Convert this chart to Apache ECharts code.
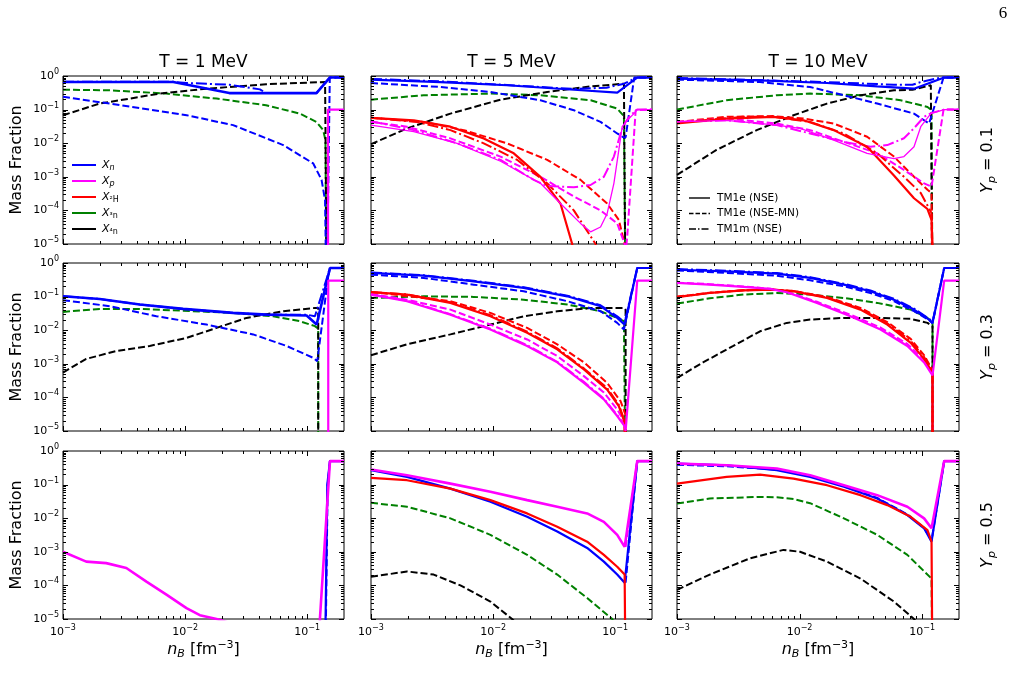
<!DOCTYPE html>
<html>
<head>
<meta charset="utf-8">
<script src="https://cdn.jsdelivr.net/npm/echarts@6/dist/echarts.min.js"></script>
<style>
  html, body { margin: 0; background: #fff; }
  #main { width: 1016px; height: 689px; }
</style>
</head>
<body>
<div id="main"></div>
<script>
// mass fractions, [n_B (fm^-3), X]; n = neutron, p = proton, d = 2H, t = 3H, a = 4He
// nse = TM1e (NSE) solid, mn = TM1e (NSE-MN) dashed, m = TM1m (NSE) dash-dot

// T = 1 MeV, Yp = 0.1
const t1y1_n_nse = [[0.001,0.66],[0.008,0.66],[0.023,0.31],[0.119,0.31],[0.153,0.9],[0.2,0.9]];
const t1y1_n_m = [[0.001,0.68],[0.008,0.67],[0.0103,0.62],[0.023,0.55],[0.041,0.40],[0.046,0.31],[0.119,0.31],[0.153,0.9],[0.2,0.9]];
const t1y1_n_mn = [[0.001,0.24],[0.0024,0.151],[0.0103,0.068],[0.0247,0.0345],[0.0636,0.0088],[0.112,0.0025],[0.131,8.1e-4],[0.140,2.0e-4],[0.144,1e-7],[0.146,1e-7],[0.153,0.9],[0.2,0.9]];
const t1y1_t_mn = [[0.001,0.39],[0.0024,0.376],[0.007,0.30],[0.0181,0.213],[0.046,0.135],[0.087,0.076],[0.119,0.043],[0.135,0.0245],[0.141,0.0124],[0.144,1e-7]];
const t1y1_a_mn = [[0.001,0.068],[0.002,0.151],[0.0062,0.30],[0.015,0.42],[0.046,0.57],[0.140,0.66],[0.145,0.66],[0.145,1e-7]];
const t1y1_p_nse = [[0.148,1e-7],[0.148,0.1],[0.2,0.1]];

// T = 5 MeV, Yp = 0.1
const t5y1_n_nse = [[0.001,0.78],[0.0037,0.66],[0.013,0.53],[0.046,0.39],[0.104,0.32],[0.151,0.9],[0.2,0.9]];
const t5y1_n_m = [[0.001,0.82],[0.0037,0.69],[0.013,0.54],[0.046,0.41],[0.085,0.45],[0.118,0.59],[0.151,0.9],[0.2,0.9]];
const t5y1_n_mn = [[0.001,0.62],[0.0037,0.47],[0.0095,0.335],[0.0244,0.19],[0.0458,0.096],[0.0758,0.043],[0.1038,0.0195],[0.117,0.0148],[0.1216,0.0148],[0.143,0.9],[0.2,0.9]];
const t5y1_t_mn = [[0.001,0.198],[0.0027,0.267],[0.0095,0.30],[0.0244,0.267],[0.063,0.19],[0.1038,0.107],[0.1178,0.064],[0.1216,0.06],[0.1216,1e-7]];
const t5y1_a_mn = [[0.001,0.0094],[0.00197,0.0275],[0.00447,0.076],[0.0115,0.198],[0.0277,0.335],[0.063,0.49],[0.1178,0.59],[0.1216,0.59],[0.1216,1e-7]];
const t5y1_d_nse = [[0.001,0.057],[0.00224,0.048],[0.00447,0.031],[0.00838,0.0139],[0.01476,0.005],[0.0244,0.001],[0.0356,1.6e-4],[0.0444,1e-5],[0.049,1e-6]];
const t5y1_d_mn = [[0.001,0.057],[0.0027,0.043],[0.00575,0.0245],[0.013,0.0099],[0.0277,0.0032],[0.052,8.1e-4],[0.0859,1.6e-4],[0.107,5.2e-5],[0.1194,1e-5],[0.1216,1e-7]];
const t5y1_d_m = [[0.001,0.057],[0.00238,0.043],[0.00447,0.0245],[0.00838,0.0099],[0.0157,0.0032],[0.0277,6.4e-4],[0.0458,1e-4],[0.069,1e-5],[0.075,3e-6]];
const t5y1_p_nse = [[0.001,0.0345],[0.00224,0.022],[0.00507,0.0099],[0.0115,0.0029],[0.0244,6.4e-4],[0.0356,1.6e-4],[0.052,4.1e-5],[0.0628,2.3e-5],[0.0758,3.2e-5],[0.0859,8.1e-5],[0.0975,6.4e-4],[0.107,0.0063],[0.114,0.031],[0.1254,0.048],[0.1423,0.076],[0.1514,0.1],[0.2,0.1]];
const t5y1_p_mn = [[0.001,0.043],[0.00197,0.031],[0.00447,0.0139],[0.0115,0.004],[0.0244,0.001],[0.0458,2.6e-4],[0.0758,1e-4],[0.1038,4.1e-5],[0.1194,1e-5],[0.1216,5e-6],[0.1254,1.7e-5],[0.147,0.096],[0.2,0.1]];
const t5y1_p_m = [[0.001,0.045],[0.00224,0.0245],[0.00507,0.0099],[0.0115,0.0032],[0.0215,8.1e-4],[0.0277,5.3e-4],[0.0458,4.9e-4],[0.0628,5.7e-4],[0.0807,0.001],[0.0975,0.004],[0.1106,0.0195],[0.1216,0.043],[0.1336,0.068],[0.1514,0.1],[0.2,0.1]];

// T = 10 MeV, Yp = 0.1
const t10y1_n_nse = [[0.001,0.83],[0.00476,0.745],[0.01675,0.62],[0.043,0.49],[0.0859,0.42],[0.1106,0.59],[0.1514,0.9],[0.2,0.9]];
const t10y1_n_m = [[0.001,0.87],[0.01675,0.66],[0.0589,0.55],[0.0834,0.55],[0.0975,0.66],[0.142,0.9],[0.2,0.9]];
const t10y1_n_mn = [[0.001,0.78],[0.00476,0.66],[0.0122,0.47],[0.023,0.267],[0.043,0.151],[0.0859,0.076],[0.114,0.0385],[0.1496,0.9],[0.2,0.9]];
const t10y1_t_mn = [[0.001,0.1],[0.00254,0.19],[0.00652,0.267],[0.0122,0.30],[0.0314,0.267],[0.0668,0.19],[0.1106,0.12],[0.1194,0.096],[0.1216,0.096],[0.1216,1e-7]];
const t10y1_a_mn = [[0.001,0.00114],[0.0021,0.0063],[0.00447,0.0245],[0.00893,0.068],[0.01675,0.151],[0.0314,0.267],[0.0589,0.376],[0.0834,0.39],[0.1178,0.53],[0.1216,0.53],[0.1216,1e-7]];
const t10y1_d_nse = [[0.001,0.0385],[0.00254,0.054],[0.00612,0.061],[0.0108,0.048],[0.019,0.0245],[0.0356,0.0078],[0.0589,0.0011],[0.0859,2.3e-4],[0.0975,1.6e-4],[0.1106,1.1e-4],[0.1194,5.2e-5],[0.1216,1e-5],[0.1216,1e-7]];
const t10y1_d_mn = [[0.001,0.043],[0.00254,0.061],[0.00612,0.064],[0.0108,0.054],[0.019,0.0385],[0.0356,0.0156],[0.0589,0.004],[0.0859,0.001],[0.1106,4.1e-4],[0.1194,3.3e-4],[0.1216,1e-7]];
const t10y1_d_m = [[0.001,0.041],[0.00348,0.061],[0.00612,0.061],[0.0122,0.043],[0.023,0.0195],[0.043,0.005],[0.0711,0.001],[0.0975,3.3e-4],[0.1194,8.3e-5],[0.1216,1e-7]];
const t10y1_p_nse = [[0.001,0.043],[0.00254,0.048],[0.00652,0.0345],[0.0101,0.0275],[0.019,0.0124],[0.0356,0.005],[0.0589,0.0035],[0.0711,0.004],[0.0859,0.0078],[0.0975,0.031],[0.1178,0.076],[0.1514,0.1],[0.2,0.1]];
const t10y1_p_mn = [[0.001,0.043],[0.00254,0.054],[0.00652,0.0385],[0.0122,0.0245],[0.023,0.011],[0.043,0.005],[0.0711,0.0016],[0.1038,6.4e-4],[0.1194,5.1e-4],[0.1496,0.1],[0.2,0.1]];
const t10y1_p_m = [[0.001,0.043],[0.00254,0.048],[0.00652,0.0345],[0.0122,0.0195],[0.023,0.011],[0.0379,0.0078],[0.052,0.0088],[0.0711,0.014],[0.0859,0.028],[0.1038,0.061],[0.1194,0.08],[0.1514,0.1],[0.2,0.1]];

// T = 1 MeV, Yp = 0.3
const t1y3_n_nse = [[0.001,0.102],[0.002,0.085],[0.00425,0.058],[0.00963,0.043],[0.0247,0.0327],[0.0464,0.029],[0.0988,0.0273],[0.1194,0.0147],[0.1535,0.71],[0.2,0.71]];
const t1y3_n_m = [[0.001,0.102],[0.002,0.085],[0.00425,0.058],[0.00963,0.043],[0.0247,0.0327],[0.0464,0.029],[0.0988,0.029],[0.1156,0.026],[0.1535,0.71],[0.2,0.71]];
const t1y3_n_mn = [[0.001,0.078],[0.00241,0.052],[0.00582,0.026],[0.01496,0.0147],[0.0361,0.0075],[0.0677,0.0034],[0.112,0.0015],[0.1208,0.0012],[0.1486,0.4],[0.1535,0.71],[0.2,0.71]];
const t1y3_t_mn = [[0.001,0.035],[0.002,0.043],[0.00425,0.043],[0.00963,0.038],[0.0247,0.0327],[0.0526,0.026],[0.0871,0.0185],[0.1156,0.0132],[0.123,0.011],[0.123,1e-7]];
const t1y3_a_mn = [[0.001,5.5e-4],[0.00155,0.0014],[0.00274,0.0024],[0.00513,0.0034],[0.01026,0.0059],[0.0181,0.0117],[0.0318,0.0232],[0.0636,0.0367],[0.1156,0.046],[0.123,0.046],[0.123,1e-7]];
const t1y3_p_nse = [[0.1486,1e-7],[0.1486,0.3],[0.2,0.3]];

// T = 5 MeV, Yp = 0.3
const t5y3_n_nse = [[0.001,0.505],[0.0027,0.42],[0.00695,0.285],[0.0178,0.181],[0.0405,0.102],[0.0758,0.052],[0.1038,0.0232],[0.1194,0.0147],[0.1514,0.71],[0.2,0.71]];
const t5y3_n_m = [[0.001,0.52],[0.0027,0.43],[0.00695,0.295],[0.0178,0.19],[0.0405,0.107],[0.0758,0.055],[0.1038,0.026],[0.1194,0.017],[0.1514,0.71],[0.2,0.71]];
const t5y3_n_mn = [[0.001,0.45],[0.0027,0.36],[0.00695,0.227],[0.0178,0.144],[0.0405,0.073],[0.0758,0.0367],[0.1038,0.0165],[0.1178,0.0105],[0.1216,0.0105],[0.1514,0.71],[0.2,0.71]];
const t5y3_t_mn = [[0.001,0.091],[0.0027,0.102],[0.00695,0.098],[0.0178,0.081],[0.0405,0.058],[0.0758,0.0367],[0.1038,0.0232],[0.1178,0.0185],[0.1216,0.0185],[0.1216,1e-7]];
const t5y3_a_mn = [[0.001,0.0018],[0.00197,0.0038],[0.00447,0.0075],[0.0095,0.0147],[0.0178,0.026],[0.0335,0.0367],[0.0628,0.046],[0.1178,0.046],[0.1216,0.04],[0.1216,1e-7]];
const t5y3_d_nse = [[0.001,0.135],[0.00197,0.115],[0.00447,0.065],[0.0095,0.026],[0.019,0.0084],[0.0335,0.0027],[0.0554,6.8e-4],[0.0859,1.7e-4],[0.107,5.5e-5],[0.1194,1.8e-5],[0.1216,1e-7]];
const t5y3_d_mn = [[0.001,0.138],[0.00447,0.073],[0.0095,0.0327],[0.019,0.0117],[0.0335,0.0038],[0.0554,0.0011],[0.0859,2.7e-4],[0.1106,7.7e-5],[0.1216,3e-5],[0.1216,1e-7]];
const t5y3_d_m = [[0.001,0.135],[0.00197,0.117],[0.00447,0.068],[0.0095,0.028],[0.019,0.009],[0.0335,0.0029],[0.0554,7.3e-4],[0.0859,1.9e-4],[0.107,6e-5],[0.1194,2e-5],[0.1216,1e-7]];
const t5y3_p_nse = [[0.001,0.115],[0.00197,0.073],[0.00447,0.029],[0.0095,0.0105],[0.019,0.0034],[0.0335,0.0011],[0.0554,2.7e-4],[0.0807,8.7e-5],[0.1038,2.8e-5],[0.1194,1.4e-5],[0.1216,1e-5],[0.1514,0.3],[0.2,0.3]];
const t5y3_p_mn = [[0.001,0.12],[0.00197,0.081],[0.00447,0.041],[0.0095,0.0147],[0.019,0.0053],[0.0335,0.0017],[0.0554,4.3e-4],[0.0807,1.4e-4],[0.1038,4.4e-5],[0.1194,1.8e-5],[0.1216,1e-7]];
const t5y3_p_m = [[0.001,0.118],[0.00197,0.076],[0.00447,0.03],[0.0095,0.011],[0.019,0.0036],[0.0335,0.00115],[0.0554,2.9e-4],[0.0807,9.2e-5],[0.1038,3e-5],[0.1194,1.5e-5],[0.1216,1e-7]];

// T = 10 MeV, Yp = 0.3
const t10y3_n_nse = [[0.001,0.63],[0.00254,0.565],[0.00652,0.48],[0.0122,0.36],[0.023,0.227],[0.0379,0.144],[0.0589,0.081],[0.0859,0.041],[0.114,0.0207],[0.1216,0.0165],[0.1514,0.71],[0.2,0.71]];
const t10y3_n_m = [[0.001,0.66],[0.00254,0.59],[0.00652,0.5],[0.0122,0.38],[0.023,0.24],[0.0379,0.152],[0.0589,0.086],[0.0859,0.044],[0.114,0.022],[0.1216,0.0175],[0.1514,0.71],[0.2,0.71]];
const t10y3_n_mn = [[0.001,0.6],[0.00254,0.505],[0.00652,0.42],[0.0122,0.305],[0.023,0.203],[0.0379,0.128],[0.0589,0.073],[0.0859,0.0367],[0.114,0.02],[0.1216,0.016],[0.1514,0.71],[0.2,0.71]];
const t10y3_t_mn = [[0.001,0.062],[0.00185,0.089],[0.00348,0.115],[0.00652,0.128],[0.0122,0.115],[0.023,0.091],[0.043,0.065],[0.0807,0.041],[0.1106,0.0232],[0.1216,0.0165],[0.1216,1e-7]];
const t10y3_a_mn = [[0.001,3.8e-4],[0.00163,0.0011],[0.00288,0.0034],[0.00476,0.0093],[0.00787,0.0165],[0.0122,0.0207],[0.023,0.0232],[0.043,0.0232],[0.0807,0.0218],[0.1106,0.0165],[0.1216,0.013],[0.1216,1e-7]];
const t10y3_d_nse = [[0.001,0.0955],[0.00185,0.128],[0.00348,0.154],[0.00612,0.161],[0.00893,0.144],[0.01675,0.091],[0.0314,0.041],[0.052,0.0147],[0.0807,0.0042],[0.1038,0.0014],[0.1216,5.4e-4],[0.1216,1e-7]];
const t10y3_d_mn = [[0.001,0.1],[0.00185,0.13],[0.00348,0.155],[0.00612,0.16],[0.00893,0.148],[0.01675,0.098],[0.0314,0.046],[0.052,0.0175],[0.0807,0.0055],[0.1038,0.0018],[0.1216,6.5e-4],[0.1216,1e-7]];
const t10y3_d_m = [[0.001,0.098],[0.00185,0.13],[0.00348,0.155],[0.00612,0.161],[0.00893,0.146],[0.01675,0.094],[0.0314,0.043],[0.052,0.016],[0.0807,0.0048],[0.1038,0.0016],[0.1216,6e-4],[0.1216,1e-7]];
const t10y3_p_nse = [[0.001,0.255],[0.00185,0.227],[0.00348,0.194],[0.00575,0.169],[0.00787,0.135],[0.01387,0.065],[0.026,0.026],[0.0458,0.0105],[0.0758,0.0034],[0.1038,0.0011],[0.1216,4.5e-4],[0.1514,0.3],[0.2,0.3]];
const t10y3_p_mn = [[0.001,0.26],[0.00185,0.235],[0.00348,0.2],[0.00575,0.172],[0.00787,0.14],[0.01387,0.07],[0.026,0.029],[0.0458,0.012],[0.0758,0.0039],[0.1038,0.0013],[0.1216,5e-4],[0.1216,1e-7]];

// T = 1 MeV, Yp = 0.5
const t1y5_p_nse = [[0.001,0.001],[0.00155,5.1e-4],[0.00226,4.6e-4],[0.0033,3.3e-4],[0.00482,1.3e-4],[0.00703,5.3e-5],[0.01026,2.1e-5],[0.0132,1.3e-5],[0.0181,1e-5],[0.025,7e-6],[0.125,1e-7],[0.127,1e-5],[0.1535,0.5],[0.2,0.5]];
const t1y5_n_nse = [[0.139,1e-7],[0.146,0.1],[0.1535,0.5],[0.2,0.5]];
const t1y5_n_mn = [[0.140,1e-7],[0.147,0.1],[0.1535,0.5],[0.2,0.5]];

// T = 5 MeV, Yp = 0.5
const t5y5_p_nse = [[0.001,0.28],[0.00197,0.19],[0.00447,0.107],[0.0095,0.061],[0.019,0.0345],[0.0335,0.022],[0.0589,0.0139],[0.0807,0.0078],[0.1038,0.0032],[0.1194,0.0014],[0.1514,0.5],[0.2,0.5]];
const t5y5_p_mn = [[0.1216,0.0014],[0.1514,0.5],[0.2,0.5]];
const t5y5_n_nse = [[0.001,0.267],[0.00197,0.17],[0.00447,0.076],[0.0095,0.031],[0.019,0.011],[0.0335,0.004],[0.0589,0.0013],[0.0807,5.1e-4],[0.1038,2.1e-4],[0.1194,1.2e-4],[0.1514,0.5],[0.2,0.5]];
const t5y5_n_mn = [[0.1216,1.2e-4],[0.1514,0.5],[0.2,0.5]];
const t5y5_d_nse = [[0.001,0.158],[0.00197,0.135],[0.00447,0.076],[0.0095,0.0345],[0.019,0.0139],[0.0335,0.0056],[0.0589,0.002],[0.0807,8.1e-4],[0.1038,3.6e-4],[0.1194,2.1e-4],[0.1216,1e-7]];
const t5y5_t_mn = [[0.001,0.0287],[0.00197,0.022],[0.00447,0.0099],[0.0095,0.0032],[0.019,8.1e-4],[0.0335,2.1e-4],[0.0589,4.2e-5],[0.0945,1e-5],[0.11,3e-6]];
const t5y5_a_mn = [[0.001,1.8e-4],[0.00197,2.6e-4],[0.00326,2.1e-4],[0.0054,1.0e-4],[0.0095,3.3e-5],[0.0143,1e-5],[0.02,3e-6]];

// T = 10 MeV, Yp = 0.5
const t10y5_p_nse = [[0.001,0.42],[0.00254,0.376],[0.00652,0.3],[0.0122,0.19],[0.023,0.096],[0.043,0.0485],[0.0758,0.022],[0.1038,0.0099],[0.1194,0.005],[0.1514,0.5],[0.2,0.5]];
const t10y5_n_nse = [[0.001,0.42],[0.00254,0.376],[0.00652,0.267],[0.0122,0.17],[0.023,0.086],[0.043,0.0386],[0.0758,0.0124],[0.1038,0.005],[0.1194,0.002],[0.1514,0.5],[0.2,0.5]];
const t10y5_n_mn = [[0.001,0.39],[0.00254,0.35],[0.00652,0.28],[0.0122,0.18],[0.023,0.09],[0.043,0.04],[0.0758,0.013],[0.1038,0.0052],[0.1194,0.0021],[0.1514,0.5],[0.2,0.5]];
const t10y5_d_nse = [[0.001,0.107],[0.00254,0.17],[0.00476,0.199],[0.00893,0.151],[0.01675,0.096],[0.0314,0.0485],[0.052,0.0245],[0.0807,0.011],[0.1106,0.0044],[0.1194,0.002],[0.1216,1e-7]];
const t10y5_t_mn = [[0.001,0.0275],[0.00185,0.0386],[0.00476,0.043],[0.00652,0.042],[0.00893,0.037],[0.0122,0.028],[0.023,0.0099],[0.043,0.0032],[0.0758,8.1e-4],[0.1194,1.6e-4],[0.1216,1e-7]];
const t10y5_a_mn = [[0.001,7.4e-5],[0.00185,2.1e-4],[0.00394,6.4e-4],[0.0074,0.00114],[0.0101,0.001],[0.01675,5.1e-4],[0.0314,1.6e-4],[0.0589,3.3e-5],[0.0859,1e-5],[0.1,5e-6]];

const titles = ["T = 1 MeV", "T = 5 MeV", "T = 10 MeV"];
const ypValues = ["0.1", "0.3", "0.5"];
const legendSpecies = [["n", "n"], ["p", "p"], ["d", "²H"], ["t", "³n"], ["a", "⁴n"]];
const legendModels = [["nse", "TM1e (NSE)"], ["mn", "TM1e (NSE-MN)"], ["m", "TM1m (NSE)"]];

// panel layout
const colLeft = [63, 371, 677];
const colWidth = [281, 281, 282];
const rowTop = [76, 263, 451];
const rowHeight = 168;

const colors = { n: "#0000ff", p: "#ff00ff", d: "#ff0000", t: "#008000", a: "#000000" };
const styles = {
  nse: { type: "solid", width: 2.2 },
  mn: { type: [7, 3], width: 2 },
  m: { type: [11, 3, 2, 3], width: 2 },
};

// curves of each panel, row by row
const panels = [
  [[t1y1_t_mn, "t", "mn"], [t1y1_a_mn, "a", "mn"], [t1y1_n_mn, "n", "mn"], [t1y1_n_m, "n", "m"], [t1y1_n_nse, "n", "nse", 2.6], [t1y1_p_nse, "p", "nse"]],
  [[t5y1_t_mn, "t", "mn"], [t5y1_a_mn, "a", "mn"], [t5y1_n_mn, "n", "mn"], [t5y1_d_mn, "d", "mn"], [t5y1_p_mn, "p", "mn"], [t5y1_n_m, "n", "m"], [t5y1_d_m, "d", "m"], [t5y1_p_m, "p", "m"], [t5y1_n_nse, "n", "nse"], [t5y1_d_nse, "d", "nse"], [t5y1_p_nse, "p", "nse", 1.3]],
  [[t10y1_t_mn, "t", "mn"], [t10y1_a_mn, "a", "mn"], [t10y1_n_mn, "n", "mn"], [t10y1_d_mn, "d", "mn"], [t10y1_p_mn, "p", "mn"], [t10y1_n_m, "n", "m"], [t10y1_d_m, "d", "m"], [t10y1_p_m, "p", "m"], [t10y1_n_nse, "n", "nse"], [t10y1_d_nse, "d", "nse"], [t10y1_p_nse, "p", "nse", 1.3]],
  [[t1y3_t_mn, "t", "mn"], [t1y3_a_mn, "a", "mn"], [t1y3_n_mn, "n", "mn"], [t1y3_n_m, "n", "m"], [t1y3_n_nse, "n", "nse", 2.6], [t1y3_p_nse, "p", "nse"]],
  [[t5y3_t_mn, "t", "mn"], [t5y3_a_mn, "a", "mn"], [t5y3_n_mn, "n", "mn"], [t5y3_d_mn, "d", "mn"], [t5y3_p_mn, "p", "mn"], [t5y3_n_m, "n", "m"], [t5y3_d_m, "d", "m"], [t5y3_p_m, "p", "m"], [t5y3_n_nse, "n", "nse"], [t5y3_d_nse, "d", "nse"], [t5y3_p_nse, "p", "nse"]],
  [[t10y3_t_mn, "t", "mn"], [t10y3_a_mn, "a", "mn"], [t10y3_n_mn, "n", "mn"], [t10y3_d_mn, "d", "mn"], [t10y3_p_mn, "p", "mn"], [t10y3_n_m, "n", "m"], [t10y3_d_m, "d", "m"], [t10y3_n_nse, "n", "nse"], [t10y3_d_nse, "d", "nse"], [t10y3_p_nse, "p", "nse"]],
  [[t1y5_n_mn, "n", "mn"], [t1y5_n_nse, "n", "nse"], [t1y5_p_nse, "p", "nse", 2.6]],
  [[t5y5_t_mn, "t", "mn"], [t5y5_a_mn, "a", "mn"], [t5y5_n_mn, "n", "mn"], [t5y5_p_mn, "p", "mn"], [t5y5_n_nse, "n", "nse"], [t5y5_d_nse, "d", "nse"], [t5y5_p_nse, "p", "nse", 2.6]],
  [[t10y5_t_mn, "t", "mn"], [t10y5_a_mn, "a", "mn"], [t10y5_n_mn, "n", "mn"], [t10y5_n_nse, "n", "nse"], [t10y5_d_nse, "d", "nse"], [t10y5_p_nse, "p", "nse", 2.6]],
];

const FONT = "DejaVu Sans";
const X_MIN = 0.001, X_MAX = 0.2, Y_MIN = 1e-5, Y_MAX = 1;

function powLabel(v) {
  const e = Math.round(Math.log10(v));
  return "10{s|" + (e < 0 ? "\u2212" + -e : e) + "}";
}

// tick values: [x, y, kind]; kind 0/1 = x major/minor, 2/3 = y major/minor
function tickData() {
  const d = [];
  for (let e = -3; e <= -1; e++) {
    for (let k = 1; k <= 9; k++) {
      const v = k * Math.pow(10, e);
      if (v >= X_MAX - 1e-9) break;
      d.push([v, Y_MIN, k === 1 ? 0 : 1]);
    }
  }
  for (let e = -5; e <= 0; e++) {
    for (let k = 1; k <= 9; k++) {
      const v = k * Math.pow(10, e);
      if (v > Y_MAX + 1e-9) break;
      d.push([X_MIN, v, k === 1 ? 2 : 3]);
    }
  }
  return d;
}

const grids = [], xAxes = [], yAxes = [], series = [];
panels.forEach((curves, gi) => {
  const r = Math.floor(gi / 3), c = gi % 3;
  grids.push({
    left: colLeft[c], top: rowTop[r], width: colWidth[c], height: rowHeight,
    show: true, borderColor: "#000", borderWidth: 1, backgroundColor: "transparent",
  });
  xAxes.push({
    type: "log", gridIndex: gi, min: X_MIN, max: X_MAX,
    axisLine: { show: false }, axisTick: { show: false }, splitLine: { show: false },
    axisLabel: {
      show: r === 2, formatter: powLabel, showMaxLabel: false, margin: 5,
      color: "#000", fontFamily: FONT, fontSize: 11, lineHeight: 16,
      rich: { s: { fontSize: 8, lineHeight: 9, verticalAlign: "top", fontFamily: FONT, color: "#000" } },
    },
  });
  yAxes.push({
    type: "log", gridIndex: gi, min: Y_MIN, max: Y_MAX,
    axisLine: { show: false }, axisTick: { show: false }, splitLine: { show: false },
    axisLabel: {
      show: c === 0, formatter: powLabel, showMinLabel: true, showMaxLabel: true, margin: 4,
      color: "#000", fontFamily: FONT, fontSize: 11, lineHeight: 16,
      rich: { s: { fontSize: 8, lineHeight: 9, verticalAlign: "top", fontFamily: FONT, color: "#000" } },
    },
  });
  curves.forEach(([data, sp, st, w]) => {
    series.push({
      type: "line", xAxisIndex: gi, yAxisIndex: gi, data: data,
      symbol: "none", showSymbol: false, silent: true, clip: true,
      lineStyle: { color: colors[sp], width: w || styles[st].width, type: styles[st].type },
    });
  });
});

const chart = echarts.init(document.getElementById("main"), null, { renderer: "canvas" });
chart.setOption({
  backgroundColor: "#fff",
  animation: false,
  grid: grids,
  xAxis: xAxes,
  yAxis: yAxes,
  series: series,
});

// texts, legends and in-pointing ticks
const graphic = [];
const baseText = { fill: "#000", fontFamily: FONT, align: "center", verticalAlign: "middle", textAlign: "center", textVerticalAlign: "middle" };
const mathRich = {
  i: { fontStyle: "italic", fontFamily: FONT, fontSize: 16, lineHeight: 20 },
  sub: { fontStyle: "italic", fontFamily: FONT, fontSize: 11, lineHeight: 9, verticalAlign: "bottom" },
  sup: { fontFamily: FONT, fontSize: 11, lineHeight: 9, verticalAlign: "top" },
};
titles.forEach((t, c) => {
  graphic.push({ type: "text", x: colLeft[c] + colWidth[c] / 2, y: 63, style: Object.assign({}, baseText, { text: t, fontSize: 17 }) });
  graphic.push({
    type: "text", x: colLeft[c] + colWidth[c] / 2, y: 650,
    style: Object.assign({}, baseText, { text: "{i|n}{sub|B} [fm{sup|\u22123}]", fontSize: 16, lineHeight: 20, rich: mathRich }),
  });
});
ypValues.forEach((v, r) => {
  const cy = rowTop[r] + rowHeight / 2;
  graphic.push({ type: "text", x: 17, y: cy, rotation: Math.PI / 2, style: Object.assign({}, baseText, { text: "Mass Fraction", fontSize: 16 }) });
  graphic.push({
    type: "text", x: 988, y: cy, rotation: Math.PI / 2,
    style: Object.assign({}, baseText, { text: "{i|Y}{sub|p} = " + v, fontSize: 16, lineHeight: 20, rich: mathRich }),
  });
});
graphic.push({ type: "text", x: 1003, y: 14, style: Object.assign({}, baseText, { text: "6", fontFamily: "Liberation Serif", fontSize: 17 }) });

// species legend (top-left panel)
legendSpecies.forEach(([sp, lab], i) => {
  const y = 165 + i * 16;
  graphic.push({ type: "line", shape: { x1: 72, y1: y, x2: 96, y2: y }, style: { stroke: colors[sp], lineWidth: 2 } });
  const italic = sp === "n" || sp === "p";
  graphic.push({
    type: "text", x: 102, y: y,
    style: {
      text: "{x|X}{s|" + lab + "}", fill: "#000", align: "left", verticalAlign: "middle", textAlign: "left", textVerticalAlign: "middle",
      rich: {
        x: { fontStyle: "italic", fontFamily: FONT, fontSize: 11, lineHeight: 14 },
        s: { fontStyle: italic ? "italic" : "normal", fontFamily: FONT, fontSize: 8, lineHeight: 8, verticalAlign: "bottom" },
      },
    },
  });
});

// model legend (top-right panel)
legendModels.forEach(([st, lab], i) => {
  const y = 198 + i * 15.5;
  const dash = st === "nse" ? null : st === "mn" ? [4.5, 2] : [7, 2, 1.5, 2];
  graphic.push({ type: "line", shape: { x1: 689, y1: y, x2: 710, y2: y }, style: { stroke: "#000", lineWidth: 1.4, lineDash: dash } });
  graphic.push({
    type: "text", x: 717, y: y,
    style: { text: lab, fill: "#000", fontFamily: FONT, fontSize: 10.5, align: "left", verticalAlign: "middle", textAlign: "left", textVerticalAlign: "middle" },
  });
});

// ticks on all four sides, placed through each grid's axes (with a log fallback)
const lx0 = Math.log10(X_MIN), lx1 = Math.log10(X_MAX), ly0 = Math.log10(Y_MIN), ly1 = Math.log10(Y_MAX);
panels.forEach((_, gi) => {
  const r = Math.floor(gi / 3), c = gi % 3;
  const top = rowTop[r], bottom = rowTop[r] + rowHeight;
  const left = colLeft[c], right = colLeft[c] + colWidth[c];
  tickData().forEach(([xv, yv, kind]) => {
    let p = null;
    try { p = chart.convertToPixel({ xAxisIndex: gi, yAxisIndex: gi }, [xv, yv]); } catch (e) { p = null; }
    if (!p || !isFinite(p[0]) || !isFinite(p[1])) {
      p = [left + (colWidth[c] * (Math.log10(xv) - lx0)) / (lx1 - lx0), bottom - (rowHeight * (Math.log10(yv) - ly0)) / (ly1 - ly0)];
    }
    const len = kind === 0 || kind === 2 ? 5 : 3;
    const st = { stroke: "#000", lineWidth: 1 };
    if (kind < 2) {
      const x = Math.round(p[0]) + 0.5;
      graphic.push({ type: "line", silent: true, z: 100, shape: { x1: x, y1: bottom, x2: x, y2: bottom - len }, style: st });
      graphic.push({ type: "line", silent: true, z: 100, shape: { x1: x, y1: top, x2: x, y2: top + len }, style: st });
    } else {
      const y = Math.round(p[1]) + 0.5;
      graphic.push({ type: "line", silent: true, z: 100, shape: { x1: left, y1: y, x2: left + len, y2: y }, style: st });
      graphic.push({ type: "line", silent: true, z: 100, shape: { x1: right, y1: y, x2: right - len, y2: y }, style: st });
    }
  });
});

chart.setOption({ graphic: graphic });
</script>
</body>
</html>
